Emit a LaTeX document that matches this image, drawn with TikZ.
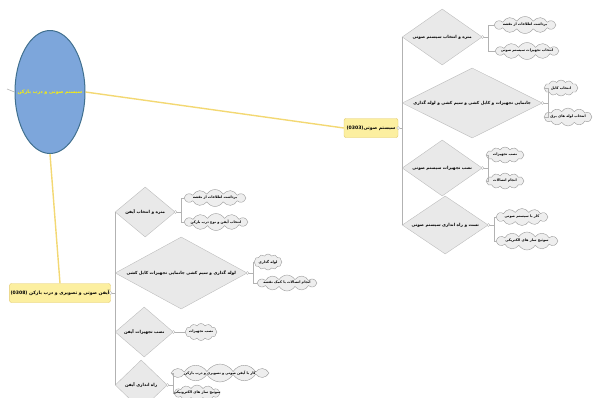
\documentclass[tikz,border=0pt]{standalone}
\usepackage{fontspec}
\TeXXeTstate=1
\newfontfamily\fa[Script=Arabic]{DejaVu Sans}
\usetikzlibrary{shapes.geometric,shapes.symbols}
\definecolor{ylw}{HTML}{F3D873}
\definecolor{boxfill}{HTML}{FCEFA0}
\definecolor{boxline}{HTML}{E2C865}
\definecolor{ellfill}{HTML}{7DA6DB}
\definecolor{ellline}{HTML}{41708F}
\definecolor{diafill}{HTML}{E9E9E9}
\definecolor{dialine}{HTML}{BDBDBD}
\definecolor{cldfill}{HTML}{EEEEEE}
\definecolor{cldline}{HTML}{9A9A9A}
\newcommand{\fat}[1]{\fa\bfseries\beginR #1\endR}
\newcommand{\fz}[1]{\makebox[0pt][c]{\fat{#1}}}
\tikzset{
  dia/.style={diamond, draw=dialine, fill=diafill, inner sep=0pt, font=\fontsize{4.2}{5}\selectfont},
  cld/.style={cloud, cloud puffs=12, cloud puff arc=120, cloud ignores aspect, draw=cldline, fill=cldfill, inner sep=0pt, font=\fontsize{3.5}{4.2}\selectfont},
  ybox/.style={rectangle, rounded corners=2pt, draw=boxline, fill=boxfill, inner sep=1pt, font=\fontsize{4.6}{5.5}\selectfont},
  conn/.style={draw=gray!60, line width=0.5pt},
  yl/.style={draw=ylw, line width=1.4pt},
  knob/.style={circle, draw=gray!60, fill=white, inner sep=0pt, minimum size=3pt},
}
\begin{document}
\begin{tikzpicture}[x=1pt,y=-1pt]
\useasboundingbox (0,0) rectangle (597,397);
\clip (0,0) rectangle (597,397);

% main ellipse
\node[ellipse, draw=ellline, line width=1pt, fill=ellfill, minimum width=70, minimum height=123, inner sep=0pt, text=yellow, font=\fontsize{4.8}{6}\selectfont] (el) at (50,92) {\fz{سیستم صوتی و درب بازکن}};
\coordinate (elleft) at (7,89);
\draw[draw=gray!60, line width=0.6pt] (el.west) -- (elleft);

% yellow boxes
\node[ybox, minimum width=54, minimum height=19] (rb) at (371,128) {\fat{سیستم صوتی\beginL(0303)\endL}};
\node[ybox, minimum width=95, minimum height=19] (lb) at (60,293) {\fat{آیفن صوتی و تصویری و درب بازکن \beginL(0308)\endL}};
\node[knob] (rbk) at (rb.east) {};
\node[knob] (lbk) at (lb.east) {};

\draw[yl] (el.east) -- (rb.west);
\draw[yl] (el.south) -- (lb.north);

% ---------------- right tree
\node[dia, anchor=west, minimum width=80, minimum height=56] (r1) at (402,37) {\fz{متره و انتخاب سیستم صوتی}};
\node[dia, anchor=west, minimum width=140, minimum height=70] (r2) at (402,103) {\fz{جانمایی تجهیزات و کابل کشی و سیم کشی و لوله گذاری}};
\node[dia, anchor=west, minimum width=80, minimum height=56] (r3) at (402,168) {\fz{نصب تجهیزات سیستم صوتی}};
\node[dia, anchor=west, minimum width=86, minimum height=58] (r4) at (402,225) {\fz{تست و راه اندازی سیستم صوتی}};

\node[cld, minimum width=62, minimum height=17] (r1a) at (525,25) {\fz{برداشت اطلاعات از نقشه}};
\node[cld, minimum width=64, minimum height=17] (r1b) at (527,51) {\fz{انتخاب تجهیزات سیستم صوتی}};
\node[cld, minimum width=34, minimum height=16] (r2a) at (561,88) {\fz{انتخاب کابل}};
\node[cld, minimum width=48, minimum height=18] (r2b) at (568,117) {\fz{انتخاب لوله های برق}};
\node[cld, minimum width=38, minimum height=16] (r3a) at (505,155) {\fz{نصب تجهیزات}};
\node[cld, minimum width=38, minimum height=16] (r3b) at (505,181) {\fz{انجام اتصالات}};
\node[cld, minimum width=52, minimum height=17] (r4a) at (522,217) {\fz{کار با سیستم صوتی}};
\node[cld, minimum width=62, minimum height=18] (r4b) at (527,241) {\fz{سوئیچ ساز های الکتریکی}};

\draw[conn] (rbk) -- (rbk -| r1.west);
\draw[conn] (r1.west) -- (r4.west);

\draw[conn] (r1.east) -- ++(6,0) coordinate (jr1);
\draw[conn] (jr1) |- (r1a.west);
\draw[conn] (jr1) |- (r1b.west);
\draw[conn] (r2.east) -- ++(6,0) coordinate (jr2);
\draw[conn] (jr2) |- (r2a.west);
\draw[conn] (jr2) |- (r2b.west);
\draw[conn] (r3.east) -- ++(6,0) coordinate (jr3);
\draw[conn] (jr3) |- (r3a.west);
\draw[conn] (jr3) |- (r3b.west);
\draw[conn] (r4.east) -- ++(6,0) coordinate (jr4);
\draw[conn] (jr4) |- (r4a.west);
\draw[conn] (jr4) |- (r4b.west);
\node[knob] (kr1) at (r1.east) {};
\node[knob] (kr2) at (r2.east) {};
\node[knob] (kr3) at (r3.east) {};
\node[knob] (kr4) at (r4.east) {};

% ---------------- left tree
\node[dia, anchor=west, minimum width=60, minimum height=50] (l1) at (115,212) {\fz{متره و انتخاب آیفن}};
\node[dia, anchor=west, minimum width=132, minimum height=72] (l2) at (115,273) {\fz{لوله گذاری و سیم کشی جانمایی تجهیزات کابل کشی}};
\node[dia, anchor=west, minimum width=58, minimum height=50] (l3) at (115,332) {\fz{نصب تجهیزات آیفن}};
\node[dia, anchor=west, minimum width=52, minimum height=50] (l4) at (115,385) {\fz{راه اندازی آیفن}};

\node[cld, minimum width=62, minimum height=17] (l1a) at (215,198) {\fz{برداشت اطلاعات از نقشه}};
\node[cld, minimum width=64, minimum height=17] (l1b) at (216,222) {\fz{انتخاب آیفن و نوع درب بازکن}};
\node[cld, minimum width=28, minimum height=16] (l2a) at (268,262) {\fz{لوله گذاری}};
\node[cld, minimum width=60, minimum height=16] (l2b) at (287,283) {\fz{انجام اتصالات با کمک نقشه}};
\node[cld, minimum width=32, minimum height=17] (l3a) at (201,332) {\fz{نصب تجهیزات}};
\node[cld, minimum width=98, minimum height=18] (l4a) at (220,373) {\fz{کار با آیفن صوتی و تصویری و درب بازکن}};
\node[cld, minimum width=46, minimum height=16] (l4b) at (197,393) {\fz{سوئیچ ساز های الکترونیکی}};

\draw[conn] (lbk) -- (lbk -| l1.west);
\draw[conn] (l1.west) -- (l4.west);

\draw[conn] (l1.east) -- ++(6,0) coordinate (jl1);
\draw[conn] (jl1) |- (l1a.west);
\draw[conn] (jl1) |- (l1b.west);
\draw[conn] (l2.east) -- ++(6,0) coordinate (jl2);
\draw[conn] (jl2) |- (l2a.west);
\draw[conn] (jl2) |- (l2b.west);
\draw[conn] (l3.east) -- (l3a.west);
\draw[conn] (l4.east) -- ++(6,0) coordinate (jl4);
\draw[conn] (jl4) |- (l4a.west);
\draw[conn] (jl4) |- (l4b.west);
\node[knob] (kl1) at (l1.east) {};
\node[knob] (kl2) at (l2.east) {};
\node[knob] (kl3) at (l3.east) {};
\node[knob] (kl4) at (l4.east) {};
\end{tikzpicture}
\end{document}
